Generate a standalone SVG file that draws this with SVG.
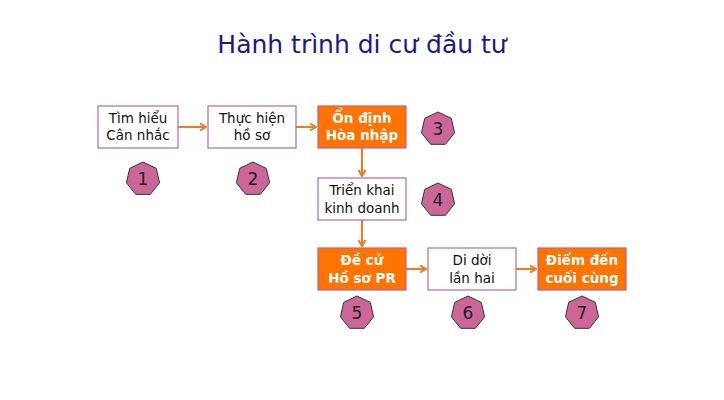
<svg xmlns="http://www.w3.org/2000/svg" xmlns:xlink="http://www.w3.org/1999/xlink" width="724" height="400" viewBox="0 0 724 400">
<style>
text{font-family:Tahoma,"DejaVu Sans","Noto Sans",sans-serif;text-anchor:middle}
.w{fill:#fff;stroke:#b36b9e;stroke-width:1.2}
.o{fill:#ff7300;stroke:#c06090;stroke-width:1.2}
.t{font-size:13.5px;fill:#111}
.b{font-size:13.5px;fill:#fff;font-weight:bold}
.n{font-size:17px;fill:#222}
.h{fill:#cc6699;stroke:#333;stroke-width:1}
.c{stroke:#ee7b22;stroke-width:2;fill:none;marker-end:url(#a)}
</style>
<defs>
<marker id="a" markerWidth="8" markerHeight="8" refX="7" refY="4" orient="auto" markerUnits="userSpaceOnUse"><path d="M1,0.5 L7,4 L1,7.5" fill="none" stroke="#ee7b22" stroke-width="2"/></marker>
<polygon id="hp" class="h" points="0,-17 13.29,-10.6 16.57,3.78 7.38,15.32 -7.38,15.32 -16.57,3.78 -13.29,-10.6"/>
</defs>
<rect width="724" height="400" fill="#fff"/>
<text x="362" y="53" style="font-size:25px;fill:#1a1a8c">Hành trình di cư đầu tư</text>
<g id="connectors">
<path class="c" d="M178,127 H206"/>
<path class="c" d="M296,127 H316"/>
<path class="c" d="M362,148 V176"/>
<path class="c" d="M362,220 V246"/>
<path class="c" d="M406,269 H426"/>
<path class="c" d="M516,269 H536"/>
</g>
<g id="n1"><rect class="w" x="98" y="106" width="80" height="42"/><text class="t" x="138" y="123">Tìm hiểu</text><text class="t" x="138" y="140">Cân nhắc</text></g>
<g id="n2"><rect class="w" x="208" y="106" width="88" height="42"/><text class="t" x="252" y="123">Thực hiện</text><text class="t" x="252" y="140">hồ sơ</text></g>
<g id="n3"><rect class="o" x="318" y="106" width="88" height="42"/><text class="b" x="362" y="123">Ổn định</text><text class="b" x="362" y="140">Hòa nhập</text></g>
<g id="n4"><rect class="w" x="318" y="178" width="88" height="42"/><text class="t" x="362" y="195">Triển khai</text><text class="t" x="362" y="213">kinh  doanh</text></g>
<g id="n5"><rect class="o" x="318" y="248" width="88" height="42"/><text class="b" x="362" y="265">Đề cử</text><text class="b" x="362" y="283">Hồ sơ PR</text></g>
<g id="n6"><rect class="w" x="428" y="248" width="88" height="42"/><text class="t" x="472" y="265">Di dời</text><text class="t" x="472" y="283">lần  hai</text></g>
<g id="n7"><rect class="o" x="538" y="248" width="88" height="42"/><text class="b" x="582" y="265">Điểm đến</text><text class="b" x="582" y="283">cuối cùng</text></g>
<g id="b1"><use xlink:href="#hp" x="143" y="179"/><text class="n" x="143" y="185">1</text></g>
<g id="b2"><use xlink:href="#hp" x="253" y="179"/><text class="n" x="253" y="185">2</text></g>
<g id="b3"><use xlink:href="#hp" x="438" y="129"/><text class="n" x="438" y="135">3</text></g>
<g id="b4"><use xlink:href="#hp" x="438" y="200"/><text class="n" x="438" y="206">4</text></g>
<g id="b5"><use xlink:href="#hp" x="357" y="313"/><text class="n" x="357" y="319">5</text></g>
<g id="b6"><use xlink:href="#hp" x="468" y="313"/><text class="n" x="468" y="319">6</text></g>
<g id="b7"><use xlink:href="#hp" x="582" y="313"/><text class="n" x="582" y="319">7</text></g>
</svg>
